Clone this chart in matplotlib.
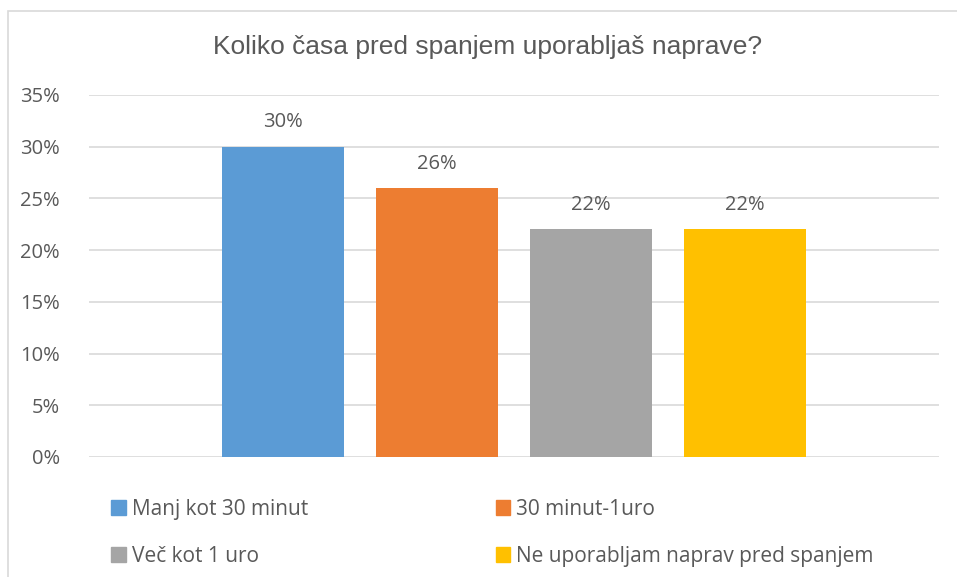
import matplotlib
matplotlib.use('Agg')
import matplotlib.pyplot as plt
from matplotlib.patches import Rectangle, Patch

plt.rcParams['font.family'] = ['Open Sans', 'DejaVu Sans']

title = 'Koliko časa pred spanjem uporabljaš naprave?'
categories = ['Manj kot 30 minut', '30 minut-1uro', 'Več kot 1 uro',
              'Ne uporabljam naprav pred spanjem']
values = [30, 26, 22, 22]
colors = ['#5B9BD5', '#ED7D31', '#A5A5A5', '#FFC000']
yticks = [0, 5, 10, 15, 20, 25, 30, 35]

txt = '#595959'
fig = plt.figure(figsize=(9.57, 5.77), dpi=100)
fig.patches.append(Rectangle((8/957, -0.05), 1.0, (577-11)/577 + 0.05,
                             transform=fig.transFigure, fill=False,
                             edgecolor='#D9D9D9', lw=1.2))
ax = fig.add_axes([89/957, 1-457/577, (939-89)/957, (457-95)/577])

x = range(len(values))
bars = ax.bar(x, values, width=0.792, color=colors, zorder=3)
for b, v in zip(bars, values):
    ax.text(b.get_x() + b.get_width()/2, v + 1.4, '%d%%' % v, ha='center',
            va='bottom', fontsize=14.5, color=txt)

ax.set_xlim(-1.26, 4.26)
ax.set_ylim(0, 35)
ax.set_yticks(yticks)
ax.set_yticklabels(['%d%%' % t for t in yticks], fontsize=14.5, color=txt)
ax.tick_params(axis='y', length=0, pad=21)
ax.set_xticks([])
ax.grid(axis='y', color='#D9D9D9', lw=1.2, zorder=0)
for s in ax.spines.values():
    s.set_visible(False)

fig.text(0.509, 1-47/577, title, ha='center', va='center', fontsize=19,
         color=txt, family=['Liberation Sans', 'DejaVu Sans'])

# matplotlib fills legend columns first, so reorder to get rows like Excel
order = [0, 2, 1, 3]
handles = [Patch(color=colors[i], label=categories[i]) for i in order]
fig.legend(handles=handles, ncol=2, loc='upper left',
           bbox_to_anchor=(111/957, 1-499/577), frameon=False,
           fontsize=15, labelcolor=txt, handlelength=0.7, handleheight=0.7,
           handletextpad=0.3, columnspacing=9.0, labelspacing=1.25,
           borderpad=0, borderaxespad=0)

fig.savefig('out.png', dpi=100)
